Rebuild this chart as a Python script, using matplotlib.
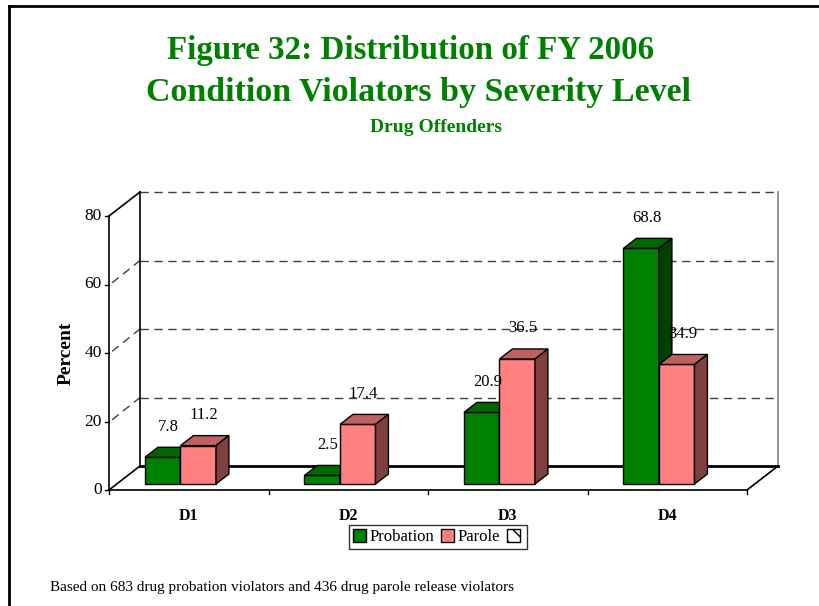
import matplotlib.pyplot as plt
from matplotlib.patches import Polygon, Rectangle
from matplotlib.lines import Line2D

plt.rcParams['font.family'] = ['Liberation Serif', 'DejaVu Serif']

categories = ['D1', 'D2', 'D3', 'D4']
probation = [7.8, 2.5, 20.9, 68.8]
parole = [11.2, 17.4, 36.5, 34.9]
yticks = [0, 20, 40, 60, 80]

W, H = 819, 606
fig = plt.figure(figsize=(W / 100, H / 100), dpi=100)

# front plane of the 3-D box, in pixels
left, right, bottom, top = 109, 747, 490, 216
ax = fig.add_axes([left / W, (H - bottom) / H, (right - left) / W, (bottom - top) / H])
ax.set_xlim(0, 4)
ax.set_ylim(0, 80)
ax.axis('off')

# depth vector (data units)
DX = 31 / ((right - left) / 4)
DY = 24 / ((bottom - top) / 80)

def line(xs, ys, **kw):
    ax.add_line(Line2D(xs, ys, clip_on=False, **kw))

# back wall gridlines + side wall connectors
for t in yticks[1:]:
    line([DX, 4 + DX], [t + DY, t + DY], color='#404040', lw=1, ls=(0, (6, 4)), zorder=1)
    if t < 80:
        line([0.02, DX], [t + 0.5, t + DY], color='#404040', lw=1, ls=(0, (6, 4)), zorder=1)
# walls and floor
line([DX, DX], [DY, 80 + DY], color='black', lw=1.2, zorder=1)
line([4 + DX, 4 + DX], [DY, 80 + DY], color='#808080', lw=1.2, zorder=1)
line([0, DX], [80, 80 + DY], color='black', lw=1.2, zorder=1)
line([DX, 4 + DX], [DY, DY], color='black', lw=2, zorder=1)
line([0, DX], [0, DY], color='black', lw=1.2, zorder=1)
line([4, 4 + DX], [0, DY], color='black', lw=1.2, zorder=1)
line([0, 4], [0, 0], color='black', lw=1.2, zorder=1)
line([0, 0], [0, 80], color='black', lw=1.2, zorder=1)

# ticks
for t in yticks:
    line([0, -0.025], [t, t], color='black', lw=1)
    ax.text(-0.045, t, str(t), ha='right', va='center', fontsize=12.5)
for i in range(5):
    line([i, i], [0, -1.3], color='black', lw=1)
for i, c in enumerate(categories):
    ax.text(i + 0.5, -7.5, c, ha='center', va='center', fontsize=11.5, fontweight='bold')
ax.text(-0.27, 40, 'Percent', rotation=90, ha='center', va='center', fontsize=14, fontweight='bold')

# bars
z0, z1 = 0.25, 0.667
w = 0.2226
series = [
    (probation, 0.177, '#008000', '#006600', '#004000', 'Probation'),
    (parole, 0.177 + w, '#FF8080', '#C06060', '#804040', 'Parole'),
]
for i in range(4):
    for vals, off, front, topc, side, lab in series:
        v = vals[i]
        x0 = i + off + z0 * DX
        ax.bar(x0, v, width=w, bottom=z0 * DY, align='edge', color=front,
               edgecolor='black', lw=1, zorder=3 + i, clip_on=False)
        ddx, ddy = (z1 - z0) * DX, (z1 - z0) * DY
        yb, yt = z0 * DY, z0 * DY + v
        ax.add_patch(Polygon([(x0, yt), (x0 + w, yt), (x0 + w + ddx, yt + ddy), (x0 + ddx, yt + ddy)],
                             closed=True, fc=topc, ec='black', lw=1, zorder=3 + i, clip_on=False))
        ax.add_patch(Polygon([(x0 + w, yb), (x0 + w + ddx, yb + ddy), (x0 + w + ddx, yt + ddy), (x0 + w, yt)],
                             closed=True, fc=side, ec='black', lw=1, zorder=3 + i, clip_on=False))
        ax.annotate(f'{v:.1f}', (x0 + w / 2, yt), xytext=(4, 22), textcoords='offset points',
                    ha='center', va='center', fontsize=12, zorder=10)

# legend
handles = [Rectangle((0, 0), 1, 1, fc='#008000', ec='black'),
           Rectangle((0, 0), 1, 1, fc='#FF8080', ec='black'),
           Rectangle((0, 0), 1, 1, fc='white', ec='black', hatch='\\\\')]
leg = fig.legend(handles, ['Probation', 'Parole', ''], loc='center', bbox_to_anchor=(438 / W, 1 - 537 / H),
                 ncol=3, frameon=True, fancybox=False, edgecolor='black', fontsize=12,
                 handlelength=0.8, handleheight=0.8, handletextpad=0.2, columnspacing=0.4,
                 borderpad=0.25)
leg.get_frame().set_linewidth(1)

# titles
fig.text(411 / W, 1 - 50 / H, 'Figure 32: Distribution of FY 2006', ha='center', va='center',
         fontsize=23.8, fontweight='bold', color='#008000')
fig.text(419 / W, 1 - 92 / H, 'Condition Violators by Severity Level', ha='center', va='center',
         fontsize=24.5, fontweight='bold', color='#008000')
fig.text(436 / W, 1 - 128 / H, 'Drug Offenders', ha='center', va='center',
         fontsize=14, fontweight='bold', color='#008000')
fig.text(50 / W, 1 - 587 / H, 'Based on 683 drug probation violators and 436 drug parole release violators',
         ha='left', va='center', fontsize=11)

# border (top and left)
fig.add_artist(Line2D([9 / W, 1], [1 - 6 / H, 1 - 6 / H], color='black', lw=2))
fig.add_artist(Line2D([9 / W, 9 / W], [0, 1 - 6 / H], color='black', lw=2))

fig.savefig('out.png', dpi=100)
